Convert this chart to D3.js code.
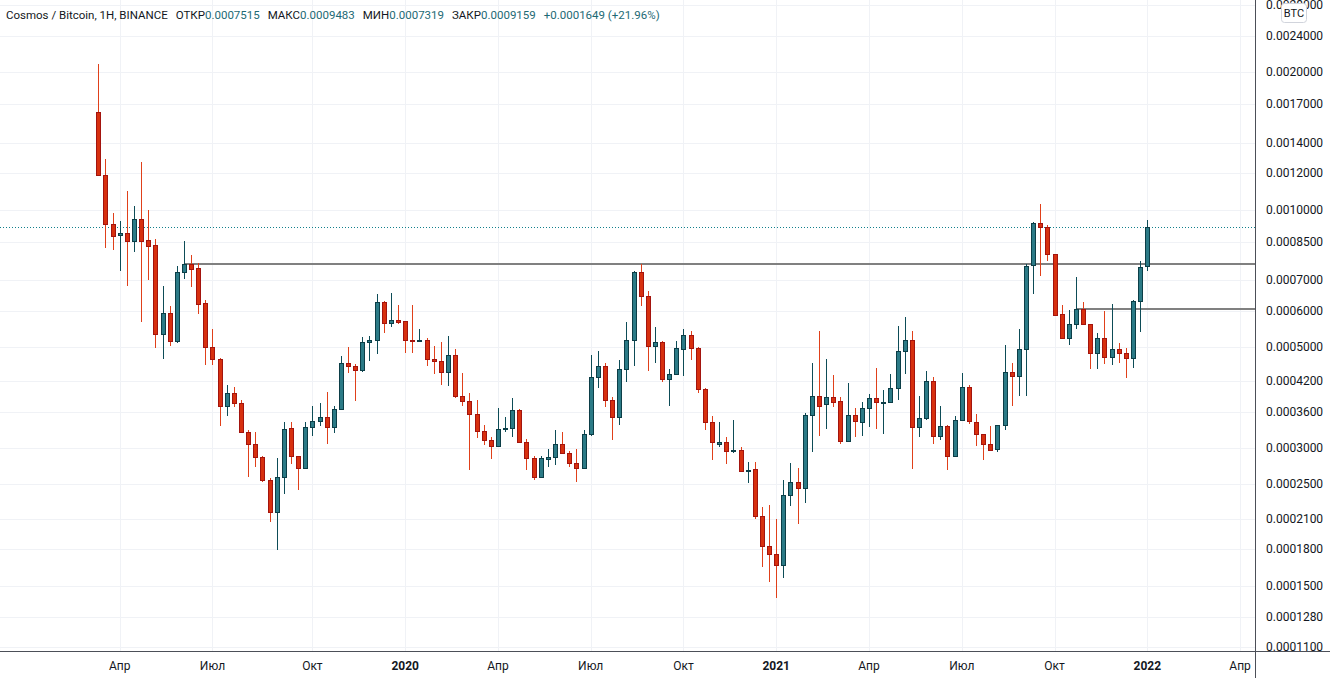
<!DOCTYPE html>
<html>
<head>
<meta charset="utf-8">
<script src="https://cdn.jsdelivr.net/npm/d3@7/dist/d3.min.js"></script>
<style>
  body { margin: 0; background: #fff; }
  svg { display: block; font-family: Roboto, "Liberation Sans", sans-serif; }
</style>
</head>
<body>
<svg id="chart" width="1330" height="678"></svg>
<script>
// Weekly ATOM/BTC candles, first bar = week of 2019-03-11
const firstWeek = '2019-03-11';

const opens = [
  0.001633, 0.001188, 0.000928, 0.000878, 0.000887, 0.000854, 0.000952, 0.000856, 0.000835, 0.000534,
  0.000592, 0.000516, 0.000729, 0.000759, 0.000743, 0.000623, 0.000499, 0.000470, 0.000372, 0.000396,
  0.000376, 0.000325, 0.000306, 0.000287, 0.000256, 0.000217, 0.000260, 0.000332, 0.000288, 0.000271,
  0.000333, 0.000344, 0.000351, 0.000333, 0.000365, 0.000460, 0.000453, 0.000444, 0.000512, 0.000519,
  0.000626, 0.000563, 0.000572, 0.000569, 0.000517, 0.000514, 0.000517, 0.000470, 0.000465, 0.000440,
  0.000479, 0.000390, 0.000380, 0.000356, 0.000327, 0.000312, 0.000303, 0.000330, 0.000332, 0.000363,
  0.000309, 0.000285, 0.000260, 0.000284, 0.000287, 0.000307, 0.000292, 0.000278, 0.000272, 0.000322,
  0.000429, 0.000453, 0.000382, 0.000351, 0.000447, 0.000519, 0.000729, 0.000645, 0.000502, 0.000512,
  0.000425, 0.000436, 0.000494, 0.000530, 0.000496, 0.000404, 0.000342, 0.000307, 0.000309, 0.000295,
  0.000297, 0.000267, 0.000270, 0.000213, 0.000183, 0.000176, 0.000166, 0.000237, 0.000253, 0.000245,
  0.000354, 0.000390, 0.000374, 0.000388, 0.000380, 0.000311, 0.000354, 0.000343, 0.000367, 0.000386,
  0.000378, 0.000378, 0.000406, 0.000489, 0.000519, 0.000333, 0.000349, 0.000420, 0.000319, 0.000335,
  0.000288, 0.000346, 0.000408, 0.000342, 0.000322, 0.000307, 0.000298, 0.000337, 0.000440, 0.000431,
  0.000494, 0.000755, 0.000932, 0.000914, 0.000798, 0.000589, 0.000522, 0.000560, 0.000604, 0.000560,
  0.000484, 0.000522, 0.000474, 0.000494, 0.000486, 0.000472, 0.000629, 0.0007515
];
const highs = [
  0.002084, 0.001290, 0.000981, 0.000942, 0.001098, 0.001018, 0.001271, 0.000997, 0.000862, 0.000680,
  0.000615, 0.000752, 0.000853, 0.000795, 0.000762, 0.000633, 0.000547, 0.000472, 0.000413, 0.000408,
  0.000382, 0.000329, 0.000325, 0.000288, 0.000258, 0.000286, 0.000342, 0.000342, 0.000289, 0.000342,
  0.000371, 0.000376, 0.000398, 0.000371, 0.000477, 0.000499, 0.000458, 0.000526, 0.000527, 0.000653,
  0.000629, 0.000656, 0.000618, 0.000570, 0.000618, 0.000547, 0.000522, 0.000502, 0.000512, 0.000527,
  0.000494, 0.000438, 0.000396, 0.000382, 0.000337, 0.000317, 0.000367, 0.000351, 0.000386, 0.000365,
  0.000314, 0.000288, 0.000289, 0.000298, 0.000328, 0.000325, 0.000295, 0.000298, 0.000328, 0.000479,
  0.000489, 0.000460, 0.000388, 0.000467, 0.000566, 0.000732, 0.000759, 0.000662, 0.000552, 0.000514,
  0.000447, 0.000514, 0.000547, 0.000541, 0.000499, 0.000407, 0.000352, 0.000342, 0.000318, 0.000346,
  0.000302, 0.000280, 0.000280, 0.000223, 0.000225, 0.000210, 0.000256, 0.000278, 0.000271, 0.000358,
  0.000460, 0.000541, 0.000470, 0.000433, 0.000388, 0.000416, 0.000367, 0.000378, 0.000394, 0.000449,
  0.000402, 0.000436, 0.000555, 0.000581, 0.000541, 0.000390, 0.000442, 0.000429, 0.000372, 0.000337,
  0.000352, 0.000438, 0.000412, 0.000356, 0.000323, 0.000335, 0.000337, 0.000504, 0.000460, 0.000547,
  0.000759, 0.000937, 0.001028, 0.000923, 0.000799, 0.000617, 0.000601, 0.000710, 0.000626, 0.000561,
  0.000535, 0.000598, 0.000620, 0.000509, 0.000496, 0.000633, 0.000770, 0.0009483
];
const lows = [
  0.001184, 0.000825, 0.000815, 0.000734, 0.000681, 0.000808, 0.000568, 0.000701, 0.000498, 0.000471,
  0.000503, 0.000511, 0.000704, 0.000677, 0.000591, 0.000457, 0.000456, 0.000336, 0.000353, 0.000370,
  0.000324, 0.000260, 0.000273, 0.000253, 0.000207, 0.000179, 0.000238, 0.000277, 0.000243, 0.000270,
  0.000319, 0.000336, 0.000306, 0.000324, 0.000363, 0.000438, 0.000381, 0.000440, 0.000466, 0.000483,
  0.000535, 0.000552, 0.000560, 0.000484, 0.000484, 0.000512, 0.000453, 0.000436, 0.000412, 0.000410,
  0.000386, 0.000372, 0.000269, 0.000315, 0.000305, 0.000284, 0.000302, 0.000325, 0.000318, 0.000308,
  0.000269, 0.000255, 0.000259, 0.000273, 0.000275, 0.000291, 0.000273, 0.000253, 0.000271, 0.000319,
  0.000406, 0.000370, 0.000313, 0.000337, 0.000418, 0.000453, 0.000614, 0.000442, 0.000460, 0.000418,
  0.000371, 0.000433, 0.000431, 0.000467, 0.000397, 0.000328, 0.000283, 0.000302, 0.000277, 0.000293,
  0.000266, 0.000252, 0.000210, 0.000165, 0.000153, 0.000141, 0.000156, 0.000224, 0.000205, 0.000228,
  0.000294, 0.000319, 0.000330, 0.000369, 0.000307, 0.000310, 0.000317, 0.000319, 0.000333, 0.000330,
  0.000323, 0.000377, 0.000383, 0.000436, 0.000270, 0.000318, 0.000345, 0.000307, 0.000312, 0.000268,
  0.000287, 0.000344, 0.000339, 0.000303, 0.000283, 0.000296, 0.000294, 0.000328, 0.000371, 0.000390,
  0.000390, 0.000654, 0.000716, 0.000770, 0.000585, 0.000520, 0.000504, 0.000547, 0.000559, 0.000448,
  0.000447, 0.000458, 0.000456, 0.000460, 0.000428, 0.000449, 0.000538, 0.0007319
];
const closes = [
  0.001188, 0.000928, 0.000876, 0.000888, 0.000854, 0.000952, 0.000854, 0.000833, 0.000534, 0.000592,
  0.000516, 0.000729, 0.000759, 0.000742, 0.000622, 0.000499, 0.000470, 0.000372, 0.000396, 0.000376,
  0.000326, 0.000306, 0.000287, 0.000256, 0.000217, 0.000260, 0.000330, 0.000288, 0.000271, 0.000333,
  0.000344, 0.000351, 0.000333, 0.000365, 0.000460, 0.000453, 0.000444, 0.000512, 0.000519, 0.000626,
  0.000563, 0.000572, 0.000568, 0.000517, 0.000514, 0.000517, 0.000470, 0.000465, 0.000440, 0.000479,
  0.000390, 0.000380, 0.000356, 0.000327, 0.000312, 0.000303, 0.000330, 0.000332, 0.000363, 0.000309,
  0.000285, 0.000260, 0.000285, 0.000287, 0.000307, 0.000292, 0.000278, 0.000272, 0.000322, 0.000429,
  0.000453, 0.000382, 0.000351, 0.000447, 0.000519, 0.000729, 0.000645, 0.000502, 0.000512, 0.000425,
  0.000436, 0.000496, 0.000530, 0.000496, 0.000404, 0.000342, 0.000309, 0.000309, 0.000295, 0.000297,
  0.000267, 0.000268, 0.000213, 0.000183, 0.000176, 0.000166, 0.000237, 0.000253, 0.000245, 0.000354,
  0.000390, 0.000372, 0.000388, 0.000378, 0.000311, 0.000354, 0.000344, 0.000367, 0.000386, 0.000378,
  0.000379, 0.000406, 0.000489, 0.000519, 0.000333, 0.000349, 0.000420, 0.000319, 0.000335, 0.000288,
  0.000345, 0.000408, 0.000344, 0.000322, 0.000307, 0.000297, 0.000337, 0.000440, 0.000431, 0.000494,
  0.000751, 0.000932, 0.000914, 0.000798, 0.000586, 0.000522, 0.000560, 0.000604, 0.000560, 0.000484,
  0.000522, 0.000474, 0.000494, 0.000486, 0.000472, 0.000629, 0.000747, 0.0009159
];

// Price axis ticks
const priceTicks = [
  0.0028, 0.0024, 0.0020, 0.0017, 0.0014, 0.0012, 0.0010, 0.00085, 0.0007, 0.0006,
  0.0005, 0.00042, 0.00036, 0.0003, 0.00025, 0.00021, 0.00018, 0.00015, 0.000128, 0.00011
];

// Time axis ticks
const timeTickDates = [
  '2019-04-01', '2019-07-01', '2019-10-07', '2020-01-06', '2020-04-06', '2020-07-06', '2020-10-05',
  '2021-01-04', '2021-04-05', '2021-07-05', '2021-10-04', '2022-01-03', '2022-04-04'
];
const timeTickLabels = ['Апр', 'Июл', 'Окт', '2020', 'Апр', 'Июл', 'Окт', '2021', 'Апр', 'Июл', 'Окт', '2022', 'Апр'];

// Drawn horizontal levels
const levelPrices = [0.00076, 0.000606];
const levelStarts = ['2019-06-03', '2021-10-25'];

// Legend
const symbolTitle = 'Cosmos / Bitcoin, 1H, BINANCE';
const legendLabels = ['ОТКР', 'МАКС', 'МИН', 'ЗАКР'];
const legendValues = ['0.0007515', '0.0009483', '0.0007319', '0.0009159'];
const changeText = '+0.0001649 (+21.96%)';

// Colors
const colors = {
  upFill: '#2b7a86',
  upStroke: '#0c3e47',
  upWick: '#0d4c57',
  downFill: '#d7300f',
  downStroke: '#a3140e',
  downWick: '#e0401a',
  grid: '#f0f2f6',
  axis: '#4c4f58',
  text: '#131722',
  value: '#1d6a75',
  level: '#808080',
  lastLine: '#12808c'
};

const W = 1330, H = 678;
const paneRight = 1255, paneBottom = 651;

const parse = d3.utcParse('%Y-%m-%d');
const start = parse(firstWeek);
const dayMs = 864e5;

const candles = opens.map((o, i) => ({
  date: d3.utcMonday.offset(start, i),
  o: o, h: highs[i], l: lows[i], c: closes[i]
}));

const x = d3.scaleUtc()
  .domain([new Date(start.getTime() - 96.43 * dayMs), new Date(start.getTime() + 1134.65 * dayMs)])
  .range([0, paneRight]);

const y = d3.scaleLog()
  .domain([0.0001078, 0.002878])
  .range([paneBottom, 0]);

const svg = d3.select('#chart');
const crisp = v => Math.round(v) + 0.5;

// Clips
const defs = svg.append('defs');
defs.append('clipPath').attr('id', 'pane')
  .append('rect').attr('x', 0).attr('y', 0).attr('width', paneRight).attr('height', paneBottom);
defs.append('clipPath').attr('id', 'priceClip')
  .append('rect').attr('x', paneRight).attr('y', 0).attr('width', W - paneRight).attr('height', paneBottom);

// Grid
const grid = svg.append('g').attr('clip-path', 'url(#pane)');
grid.selectAll('line.h')
  .data(priceTicks)
  .join('line')
  .attr('class', 'h')
  .attr('x1', 0).attr('x2', paneRight)
  .attr('y1', d => crisp(y(d))).attr('y2', d => crisp(y(d)))
  .attr('stroke', colors.grid);
grid.selectAll('line.v')
  .data(timeTickDates)
  .join('line')
  .attr('class', 'v')
  .attr('x1', d => crisp(x(parse(d)))).attr('x2', d => crisp(x(parse(d))))
  .attr('y1', 0).attr('y2', paneBottom)
  .attr('stroke', colors.grid);

// Level lines
const plot = svg.append('g').attr('clip-path', 'url(#pane)');
plot.selectAll('line.level')
  .data(levelPrices)
  .join('line')
  .attr('class', 'level')
  .attr('x1', (d, i) => x(parse(levelStarts[i])))
  .attr('x2', paneRight)
  .attr('y1', d => Math.round(y(d)))
  .attr('y2', d => Math.round(y(d)))
  .attr('stroke', colors.level)
  .attr('stroke-width', 2);

// Last price dotted line
const lastClose = closes[closes.length - 1];
plot.append('line')
  .attr('x1', 0).attr('x2', paneRight)
  .attr('y1', crisp(y(lastClose))).attr('y2', crisp(y(lastClose)))
  .attr('stroke', colors.lastLine)
  .attr('stroke-dasharray', '1,2');

// Candles
const bars = plot.selectAll('g.bar')
  .data(candles)
  .join('g')
  .attr('class', 'bar');

bars.append('line')
  .attr('x1', d => crisp(x(d.date)))
  .attr('x2', d => crisp(x(d.date)))
  .attr('y1', d => Math.round(y(d.h)))
  .attr('y2', d => Math.round(y(d.l)))
  .attr('stroke', d => d.c >= d.o ? colors.upWick : colors.downWick);

bars.append('rect')
  .attr('x', d => Math.round(x(d.date)) - 1.5)
  .attr('width', 4)
  .attr('y', d => Math.round(y(Math.max(d.o, d.c))) + 0.5)
  .attr('height', d => Math.max(1, Math.round(y(Math.min(d.o, d.c))) - Math.round(y(Math.max(d.o, d.c)))))
  .attr('fill', d => d.c >= d.o ? colors.upFill : colors.downFill)
  .attr('stroke', d => d.c >= d.o ? colors.upStroke : colors.downStroke);

// Axis lines
svg.append('line')
  .attr('x1', 0).attr('x2', W)
  .attr('y1', paneBottom + 0.5).attr('y2', paneBottom + 0.5)
  .attr('stroke', colors.axis);
svg.append('line')
  .attr('x1', paneRight + 0.5).attr('x2', paneRight + 0.5)
  .attr('y1', 0).attr('y2', H)
  .attr('stroke', colors.axis);

// Price labels
svg.append('g').attr('clip-path', 'url(#priceClip)')
  .selectAll('text')
  .data(priceTicks)
  .join('text')
  .attr('x', 1266)
  .attr('y', d => y(d) + 4)
  .attr('font-size', 12)
  .attr('fill', colors.text)
  .text(d => d3.format('.7f')(d));

// Currency badge
svg.append('rect')
  .attr('x', 1281.5).attr('y', 3.5).attr('width', 25).attr('height', 19).attr('rx', 3)
  .attr('fill', '#fff').attr('stroke', '#d1d4dc');
svg.append('text')
  .attr('x', 1294).attr('y', 17)
  .attr('text-anchor', 'middle')
  .attr('font-size', 11)
  .attr('fill', colors.text)
  .text('BTC');

// Time labels
svg.append('g')
  .selectAll('text')
  .data(timeTickDates)
  .join('text')
  .attr('x', d => x(parse(d)))
  .attr('y', 670)
  .attr('text-anchor', 'middle')
  .attr('font-size', 12)
  .attr('font-weight', (d, i) => /^\d+$/.test(timeTickLabels[i]) ? 'bold' : 'normal')
  .attr('fill', colors.text)
  .text((d, i) => timeTickLabels[i]);

// Legend, one flowing line
const legend = svg.append('text')
  .attr('x', 6).attr('y', 19)
  .attr('font-size', 11.5);
legend.append('tspan').attr('fill', colors.text).text(symbolTitle);
legendLabels.forEach((label, i) => {
  legend.append('tspan').attr('dx', 8).attr('fill', colors.text).text(label);
  legend.append('tspan').attr('fill', colors.value).text(legendValues[i]);
});
legend.append('tspan').attr('dx', 8).attr('fill', colors.value).text(changeText);
</script>
</body>
</html>
